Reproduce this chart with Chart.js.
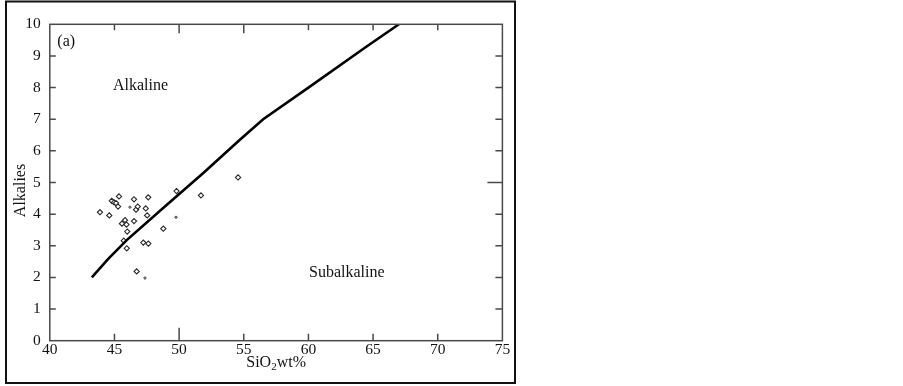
<!DOCTYPE html>
<html><head><meta charset="utf-8">
<script src="https://cdn.jsdelivr.net/npm/chart.js@4.4.1/dist/chart.umd.min.js"></script>
<style>html,body{margin:0;padding:0;background:#fff;overflow:hidden}#wrap{position:relative;width:903px;height:386px}</style>
</head><body><div id="wrap"><canvas id="c" width="903" height="386"></canvas></div>
<script>
const xTicks = [40, 45, 50, 55, 60, 65, 70, 75];
const yTicks = [0, 1, 2, 3, 4, 5, 6, 7, 8, 9, 10];
const boundarySiO2 = [43.25, 44.5, 45.95, 48.9, 51.85, 54.7, 56.5, 60.0, 64.5, 67.0];
const boundaryAlk  = [2.0, 2.58, 3.18, 4.24, 5.29, 6.35, 7.0, 8.0, 9.3, 10.0];
const sampleSiO2 = [43.88, 44.60, 44.79, 44.97, 45.12, 45.28, 45.35, 46.51, 46.67, 46.80, 47.42, 47.61, 47.53,
                    45.82, 45.58, 45.93, 46.51, 45.99, 45.72, 45.95, 47.23, 47.62, 48.78, 49.80, 51.69, 54.56, 46.72];
const sampleAlk  = [4.06, 3.96, 4.42, 4.37, 4.35, 4.24, 4.56, 4.47, 4.14, 4.24, 4.18, 4.53, 3.96,
                    3.81, 3.70, 3.67, 3.78, 3.45, 3.16, 2.92, 3.10, 3.07, 3.54, 4.73, 4.59, 5.16, 2.19];
const minorSiO2 = [46.20, 49.76, 47.36];
const minorAlk  = [4.22, 3.90, 1.98];
const xTitle = ['SiO', '2', 'wt%'];
const yTitle = 'Alkalies';
const fieldLabels = ['(a)', 'Alkaline', 'Subalkaline'];

const toPts = (xs, ys) => xs.map((x, i) => ({x: x, y: ys[i]}));
const SERIF = '"Liberation Serif", "Times New Roman", serif';
const INK = '#111';

const decor = {
  id: 'decor',
  afterDraw(chart) {
    const {ctx, chartArea: a, scales: {x, y}} = chart;
    ctx.save();
    // axes box
    ctx.strokeStyle = '#4a4a4a';
    ctx.lineWidth = 1.5;
    ctx.strokeRect(a.left, a.top, a.right - a.left, a.bottom - a.top);
    // inward ticks
    ctx.beginPath();
    xTicks.forEach(v => {
      if (v === 40 || v === 75) return;
      const px = x.getPixelForValue(v);
      const lb = v === 50 ? 13 : 7;
      const lt = v === 50 || v === 55 ? 9 : 6;
      ctx.moveTo(px, a.bottom); ctx.lineTo(px, a.bottom - lb);
      ctx.moveTo(px, a.top); ctx.lineTo(px, a.top + lt);
    });
    yTicks.forEach(v => {
      if (v === 0 || v === 10) return;
      const py = y.getPixelForValue(v);
      const lr = v === 5 ? 15 : 7;
      ctx.moveTo(a.left, py); ctx.lineTo(a.left + 6, py);
      ctx.moveTo(a.right, py); ctx.lineTo(a.right - lr, py);
    });
    ctx.stroke();
    // outer frame
    ctx.strokeStyle = '#111';
    ctx.lineWidth = 2;
    ctx.strokeRect(6, 1.5, 509, 381.5);
    // field labels
    ctx.fillStyle = INK;
    ctx.textBaseline = 'alphabetic';
    ctx.textAlign = 'left';
    ctx.font = '16px ' + SERIF;
    ctx.fillText(fieldLabels[0], a.left + 7.5, 46);
    ctx.fillText(fieldLabels[1], 113, 89.5);
    ctx.fillText(fieldLabels[2], 309, 277);
    // x title with subscript
    const w0 = ctx.measureText(xTitle[0]).width;
    ctx.font = '11px ' + SERIF;
    const w1 = ctx.measureText(xTitle[1]).width;
    ctx.font = '16px ' + SERIF;
    const w2 = ctx.measureText(xTitle[2]).width;
    const total = w0 + w1 + w2;
    let sx = (a.left + a.right) / 2 - total / 2;
    const by = 367;
    ctx.fillText(xTitle[0], sx, by);
    ctx.font = '11px ' + SERIF;
    ctx.fillText(xTitle[1], sx + w0, by + 3);
    ctx.font = '16px ' + SERIF;
    ctx.fillText(xTitle[2], sx + w0 + w1, by);
    // y title
    ctx.translate(25, 190.5);
    ctx.rotate(-Math.PI / 2);
    ctx.textAlign = 'center';
    ctx.fillText(yTitle, 0, 0);
    ctx.restore();
  }
};

new Chart(document.getElementById('c'), {
  type: 'scatter',
  data: {
    datasets: [
      {
        label: 'Boundary',
        data: toPts(boundarySiO2, boundaryAlk),
        showLine: true,
        borderColor: '#000',
        borderWidth: 2.6,
        pointRadius: 0,
        tension: 0,
        fill: false
      },
      {
        label: 'Samples',
        data: toPts(sampleSiO2, sampleAlk),
        pointStyle: 'rectRot',
        pointRadius: 2.6,
        borderWidth: 1.1,
        borderColor: '#2a2a2a',
        backgroundColor: '#fff'
      },
      {
        label: 'Samples (small)',
        data: toPts(minorSiO2, minorAlk),
        pointStyle: 'rectRot',
        pointRadius: 1.4,
        borderWidth: 1,
        borderColor: '#555',
        backgroundColor: '#777'
      }
    ]
  },
  options: {
    responsive: false,
    animation: false,
    devicePixelRatio: 1,
    layout: {padding: {left: 0, top: 24.3, right: 400.6, bottom: 0}},
    plugins: {legend: {display: false}, tooltip: {enabled: false}, title: {display: false}},
    scales: {
      x: {
        type: 'linear', min: 40, max: 75,
        afterBuildTicks: s => { s.ticks = xTicks.map(v => ({value: v})); },
        afterFit: s => { s.height = 386 - 340.7; },
        ticks: {font: {family: SERIF, size: 15.5}, color: INK, padding: 0, autoSkip: false, maxRotation: 0},
        grid: {display: false, drawTicks: false},
        border: {display: false}
      },
      y: {
        type: 'linear', min: 0, max: 10,
        afterBuildTicks: s => { s.ticks = yTicks.map(v => ({value: v})); },
        afterFit: s => { s.width = 49.8; },
        ticks: {font: {family: SERIF, size: 15.5}, color: INK, padding: 9, autoSkip: false},
        grid: {display: false, drawTicks: false},
        border: {display: false}
      }
    }
  },
  plugins: [decor]
});
</script></body></html>
